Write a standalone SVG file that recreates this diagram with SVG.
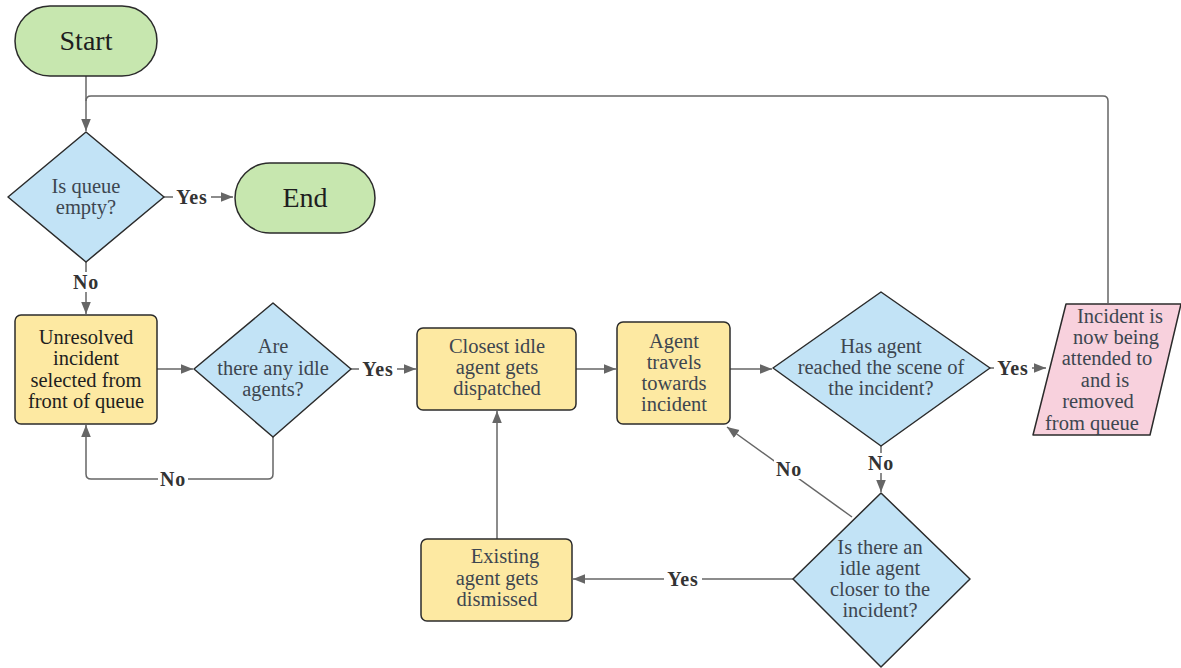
<svg xmlns="http://www.w3.org/2000/svg" width="1181" height="668" viewBox="0 0 1181 668">
  <defs>
    <marker id="arrow" viewBox="0 0 10 10" refX="10" refY="5" markerWidth="12" markerHeight="12" markerUnits="userSpaceOnUse" orient="auto">
      <path d="M0,1 L10,5 L0,9 z" fill="#666"/>
    </marker>
    <style>
      .term { fill: #c7e7af; stroke: #2b2b2b; stroke-width: 1.5; }
      .dec { fill: #c2e3f6; stroke: #2b2b2b; stroke-width: 1.5; stroke-linejoin: round; }
      .proc { fill: #fde9a2; stroke: #2b2b2b; stroke-width: 1.5; }
      .io { fill: #f8d1dd; stroke: #2b2b2b; stroke-width: 1.5; stroke-linejoin: round; }
      .t { font-family: "Liberation Serif", serif; font-size: 20.5px; fill: #3d4650; text-anchor: middle; }
      .dark { fill: #1e1e1e; }
      .big { font-family: "Liberation Serif", serif; font-size: 28px; fill: #1e1e1e; text-anchor: middle; }
      .lbl { font-family: "Liberation Serif", serif; font-size: 20px; font-weight: bold; fill: #333; text-anchor: middle; letter-spacing: 0.8px; }
      .c { fill: none; stroke: #666; stroke-width: 1.5; }
      .lblbg { fill: #ffffff; }
    </style>
  </defs>
  <rect width="1181" height="668" fill="#ffffff"/>

  <!-- connectors -->
  <g id="connectors">
    <path class="c" d="M86,76 V131" marker-end="url(#arrow)"/>
    <path class="c" d="M1108,303 V101 Q1108,96 1103,96 H91 Q86,96 86,101"/>
    <path class="c" d="M164,197 H233" marker-end="url(#arrow)"/>
    <path class="c" d="M86,262 V314" marker-end="url(#arrow)"/>
    <path class="c" d="M157,369 H193" marker-end="url(#arrow)"/>
    <path class="c" d="M273,437 V474 Q273,479 268,479 H91 Q86,479 86,474 V425" marker-end="url(#arrow)"/>
    <path class="c" d="M351,369 H416" marker-end="url(#arrow)"/>
    <path class="c" d="M576,369 H616" marker-end="url(#arrow)"/>
    <path class="c" d="M730,369 H772" marker-end="url(#arrow)"/>
    <path class="c" d="M990,368 H1046" marker-end="url(#arrow)"/>
    <path class="c" d="M881,446 V492" marker-end="url(#arrow)"/>
    <path class="c" d="M852,517 L727,427" marker-end="url(#arrow)"/>
    <path class="c" d="M793,579 H573" marker-end="url(#arrow)"/>
    <path class="c" d="M497,539 V411" marker-end="url(#arrow)"/>

    <!-- branch labels -->
    <rect class="lblbg" x="173" y="186" width="38" height="22"/>
    <text class="lbl" x="192" y="204">Yes</text>
    <rect class="lblbg" x="71" y="272" width="30" height="20"/>
    <text class="lbl" x="86" y="289">No</text>
    <rect class="lblbg" x="158" y="469" width="30" height="20"/>
    <text class="lbl" x="173" y="486">No</text>
    <rect class="lblbg" x="359" y="358" width="38" height="22"/>
    <text class="lbl" x="378" y="376">Yes</text>
    <rect class="lblbg" x="994" y="357" width="38" height="22"/>
    <text class="lbl" x="1013" y="375">Yes</text>
    <rect class="lblbg" x="866" y="453" width="30" height="20"/>
    <text class="lbl" x="881" y="470">No</text>
    <rect class="lblbg" x="774" y="459" width="30" height="20"/>
    <text class="lbl" x="789" y="476">No</text>
    <rect class="lblbg" x="664" y="568" width="38" height="22"/>
    <text class="lbl" x="683" y="586">Yes</text>
  </g>

  <g id="start">
    <rect class="term" x="15" y="6" width="142" height="70" rx="35"/>
    <text class="big" x="86" y="50">Start</text>
  </g>

  <g id="queue-empty">
    <path class="dec" d="M86,132 L164,197 L86,262 L8,197 Z"/>
    <text class="t" x="86" y="193">Is queue</text>
    <text class="t" x="86" y="214">empty?</text>
  </g>

  <g id="end">
    <rect class="term" x="235" y="163" width="140" height="70" rx="35"/>
    <text class="big" x="305" y="207">End</text>
  </g>

  <g id="select-incident">
    <rect class="proc" x="15" y="315" width="142" height="109" rx="6"/>
    <text class="t dark" x="86" y="344">Unresolved</text>
    <text class="t dark" x="86" y="365">incident</text>
    <text class="t dark" x="86" y="387">selected from</text>
    <text class="t dark" x="86" y="408">front of queue</text>
  </g>

  <g id="idle-agents">
    <path class="dec" d="M273,303 L351,369 L273,437 L194,369 Z"/>
    <text class="t" x="273" y="353">Are</text>
    <text class="t" x="273" y="375">there any idle</text>
    <text class="t" x="273" y="396">agents?</text>
  </g>

  <g id="dispatch">
    <rect class="proc" x="417" y="328" width="159" height="82" rx="6"/>
    <text class="t" x="497" y="353">Closest idle</text>
    <text class="t" x="497" y="374">agent gets</text>
    <text class="t" x="497" y="395">dispatched</text>
  </g>

  <g id="travel">
    <rect class="proc" x="617" y="322" width="113" height="102" rx="6"/>
    <text class="t" x="674" y="348">Agent</text>
    <text class="t" x="674" y="369">travels</text>
    <text class="t" x="674" y="390">towards</text>
    <text class="t" x="674" y="411">incident</text>
  </g>

  <g id="reached-scene">
    <path class="dec" d="M881,292 L990,368 L881,446 L773,368 Z"/>
    <text class="t" x="881" y="353">Has agent</text>
    <text class="t" x="881" y="374">reached the scene of</text>
    <text class="t" x="881" y="395">the incident?</text>
  </g>

  <g id="attended">
    <path class="io" d="M1066,304 L1181,304 L1150,435 L1033,435 Z"/>
    <text class="t" x="1120" y="323">Incident is</text>
    <text class="t" x="1116" y="344">now being</text>
    <text class="t" x="1107" y="365">attended to</text>
    <text class="t" x="1105" y="387">and is</text>
    <text class="t" x="1098" y="408">removed</text>
    <text class="t" x="1092" y="430">from queue</text>
  </g>

  <g id="closer-agent">
    <path class="dec" d="M881,493 L970,579 L881,667 L793,579 Z"/>
    <text class="t" x="880" y="554">Is there an</text>
    <text class="t" x="880" y="575">idle agent</text>
    <text class="t" x="880" y="596">closer to the</text>
    <text class="t" x="880" y="617">incident?</text>
  </g>

  <g id="dismiss">
    <rect class="proc" x="421" y="539" width="151" height="82" rx="6"/>
    <text class="t" x="505" y="563">Existing</text>
    <text class="t" x="497" y="585">agent gets</text>
    <text class="t" x="497" y="606">dismissed</text>
  </g>
</svg>
